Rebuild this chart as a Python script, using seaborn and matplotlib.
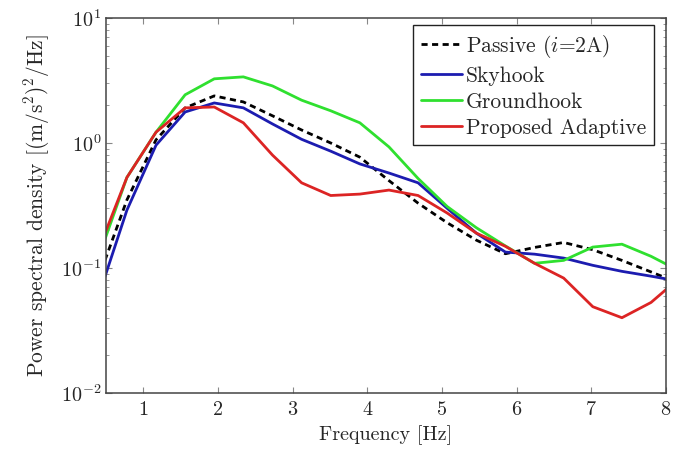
import numpy as np
import pandas as pd
import matplotlib
matplotlib.use("Agg")
import matplotlib.pyplot as plt
import seaborn as sns
from matplotlib.ticker import LogLocator, FixedLocator

# frequency bins [Hz]
freq = [0.39, 0.78, 1.17, 1.56, 1.95, 2.34, 2.73, 3.12, 3.51, 3.90, 4.29,
        4.68, 5.07, 5.46, 5.85, 6.24, 6.63, 7.02, 7.41, 7.80, 8.19]

passive = [0.08, 0.35, 1.06, 1.91, 2.38, 2.13, 1.65, 1.27, 1.00, 0.77, 0.50,
           0.33, 0.23, 0.167, 0.13, 0.146, 0.16, 0.14, 0.115, 0.093, 0.075]
skyhook = [0.057, 0.29, 0.96, 1.77, 2.09, 1.91, 1.42, 1.07, 0.86, 0.68, 0.575,
           0.48, 0.30, 0.19, 0.134, 0.129, 0.12, 0.105, 0.094, 0.086, 0.078]
groundhook = [0.117, 0.53, 1.22, 2.43, 3.26, 3.38, 2.86, 2.2, 1.81, 1.45, 0.93,
              0.52, 0.31, 0.21, 0.15, 0.109, 0.115, 0.147, 0.155, 0.124, 0.094]
adaptive = [0.135, 0.53, 1.22, 1.91, 1.94, 1.45, 0.80, 0.48, 0.38, 0.39, 0.42,
            0.38, 0.275, 0.19, 0.149, 0.109, 0.083, 0.049, 0.040, 0.053, 0.084]

labels = ["Passive ($i$=2A)", "Skyhook", "Groundhook", "Proposed Adaptive"]
colors = ["black", "#1c1cb0", "#2fe02f", "#dc2424"]

df = pd.concat([
    pd.DataFrame({"f": freq, "psd": vals, "case": lab})
    for lab, vals in zip(labels, [passive, skyhook, groundhook, adaptive])
])

sns.set_style("ticks")
plt.rcParams["font.family"] = ["cmr10", "DejaVu Serif"]
plt.rcParams["mathtext.fontset"] = "cm"
plt.rcParams["axes.formatter.use_mathtext"] = True

fig = plt.figure(figsize=(6.86, 4.54), dpi=100)
ax = fig.add_axes([0.1545, 0.1344, 0.8163, 0.826])

sns.lineplot(data=df, x="f", y="psd", hue="case", style="case",
             palette=dict(zip(labels, colors)),
             dashes={labels[0]: (2.2, 1.6), labels[1]: "", labels[2]: "", labels[3]: ""},
             linewidth=2.0, ax=ax)

ax.set_yscale("log")
ax.set_xlim(0.5, 8)
ax.set_ylim(1e-2, 1e1)
ax.xaxis.set_major_locator(FixedLocator([1, 2, 3, 4, 5, 6, 7, 8]))
ax.yaxis.set_major_locator(LogLocator(base=10, numticks=10))
ax.yaxis.set_minor_locator(LogLocator(base=10, subs=np.arange(2, 10), numticks=20))
ax.tick_params(which="both", direction="in", top=True, right=True,
               labelsize=14.5, color="#888888")
ax.tick_params(which="major", length=4)
ax.tick_params(which="minor", length=2.5)
ax.tick_params(axis="x", pad=6)
for s in ax.spines.values():
    s.set_color("#444444")
    s.set_linewidth(1.1)

ax.set_xlabel("Frequency [Hz]", fontsize=14.5, labelpad=4)
ax.set_ylabel("Power spectral density [(m/s$^2$)$^2$/Hz]", fontsize=15.5, labelpad=6)

leg = ax.legend(loc="upper right", fontsize=15.5, frameon=True, fancybox=False,
                handlelength=1.9, handletextpad=0.2, labelspacing=0.3,
                borderpad=0.35, borderaxespad=0, bbox_to_anchor=(0.9786, 0.981))
leg.get_frame().set_edgecolor("#222222")
leg.get_frame().set_linewidth(1.0)
leg.get_frame().set_alpha(1)

fig.savefig("out.png", dpi=100)
